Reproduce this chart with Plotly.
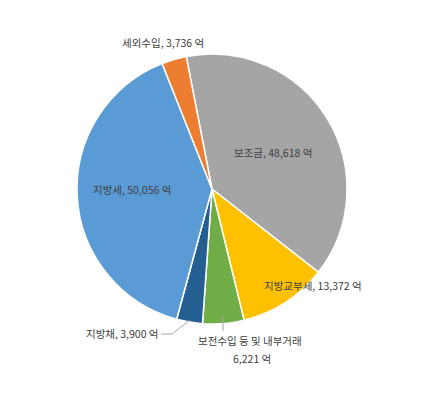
import plotly.graph_objects as go

labels = ["보조금", "지방교부세", "보전수입 등 및 내부거래", "지방채", "지방세", "세외수입"]
values = [48618, 13372, 6221, 3900, 50056, 3736]
colors = ["#A5A5A5", "#FFC000", "#70AD47", "#255E91", "#5B9BD5", "#ED7D31"]

W, H = 435, 404
OFF = 8  # page body margin


def px_x(x):
    return (x - OFF) / W


def px_y(y):
    return 1 - (y - OFF) / H


cx, cy, r = 212, 189, 135

fig = go.Figure(go.Pie(
    labels=labels,
    values=values,
    sort=False,
    direction="clockwise",
    rotation=-11,
    marker=dict(colors=colors, line=dict(color="white", width=1.5)),
    textinfo="none",
    hoverinfo="label+value",
    domain=dict(x=[px_x(cx - r), px_x(cx + r)],
                y=[px_y(cy + r), px_y(cy - r)]),
))


def txt(i):
    return f"{labels[i]}, {values[i]:,} 억"


# label positions (pixels in the picture)
label_pos = {
    0: (273, 152),
    1: (313, 285),
    3: (122, 333),
    4: (132, 190),
    5: (163, 43),
}
font = dict(size=10.5, color="#404040")
for i, (x, y) in label_pos.items():
    fig.add_annotation(x=px_x(x), y=px_y(y), xref="paper", yref="paper",
                       xanchor="center", yanchor="middle",
                       text=txt(i), showarrow=False, font=font)

# two-line label for the small green slice
fig.add_annotation(x=px_x(250), y=px_y(340), xref="paper", yref="paper",
                   xanchor="center", yanchor="middle",
                   text=labels[2], showarrow=False, font=font)
fig.add_annotation(x=px_x(252), y=px_y(358), xref="paper", yref="paper",
                   xanchor="center", yanchor="middle",
                   text=f"{values[2]:,} 억", showarrow=False, font=font)

# leader lines
fig.add_shape(type="path", xref="paper", yref="paper",
              path=f"M {px_x(190)} {px_y(320)} L {px_x(172)} {px_y(334)} L {px_x(161)} {px_y(334)}",
              line=dict(color="#A6A6A6", width=1))
fig.add_shape(type="line", xref="paper", yref="paper",
              x0=px_x(223), y0=px_y(316), x1=px_x(223), y1=px_y(331),
              line=dict(color="#A6A6A6", width=1))

fig.update_layout(
    width=W, height=H,
    margin=dict(l=0, r=0, t=0, b=0),
    showlegend=False,
    paper_bgcolor="white",
    font=dict(family="Noto Sans CJK KR, Noto Sans, sans-serif"),
)

fig.write_html("out.html")
